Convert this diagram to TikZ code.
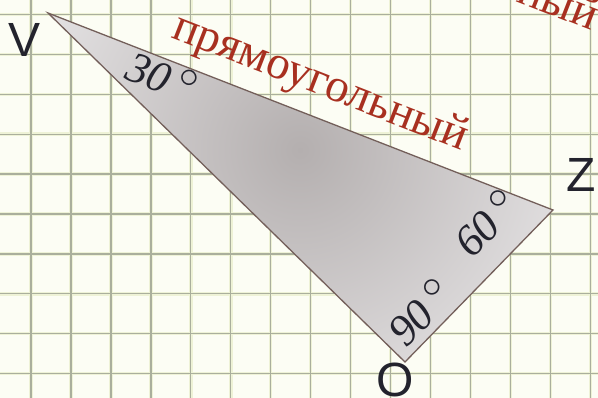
\documentclass[tikz,border=0pt]{standalone}
\usepackage{fontspec}
\setmainfont{Liberation Serif}
\newfontfamily\lblfont{Liberation Sans}
\definecolor{paper}{RGB}{252,253,244}
\definecolor{gridglow}{RGB}{238,242,214}
\definecolor{gridline}{RGB}{170,175,156}
\definecolor{trifill}{RGB}{180,175,175}
\definecolor{trifillout}{RGB}{228,226,227}
\definecolor{tristroke}{RGB}{115,95,90}
\definecolor{redtext}{RGB}{168,48,32}
\definecolor{darktext}{RGB}{35,35,45}
\tikzset{
  vlabel/.style={font=\lblfont\fontsize{48}{48}\selectfont, text=darktext, inner sep=0pt},
  anglelabel/.style={font=\itshape\fontsize{44}{44}\selectfont, text=darktext, inner sep=0pt, anchor=base west},
  wordlabel/.style={font=\fontsize{47}{47}\selectfont, text=redtext, inner sep=0pt, anchor=base west, rotate=-21.3},
}
\newcommand{\degmark}{\hspace{8pt}\raisebox{14pt}{\scalebox{1.6}{\fontsize{24.88}{25}\selectfont$\circ$}}}
\begin{document}
\begin{tikzpicture}[x=1pt,y=-1pt]
\useasboundingbox (0,0) rectangle (598,398);
\begin{scope}
\clip (0,0) rectangle (598,398);
\fill[paper] (0,0) rectangle (598,398);
% grid
\foreach \i in {0,...,14} {
  \draw[gridglow, line width=3.5pt] ({31+39.95*\i},0) -- ({31+39.95*\i},398);
}
\foreach \j in {0,...,9} {
  \draw[gridglow, line width=3.5pt] (0,{14.5+39.9*\j}) -- (598,{14.5+39.9*\j});
}
\foreach \i in {0,...,14} {
  \draw[gridline, line width=1.3pt] ({31+39.95*\i},0) -- ({31+39.95*\i},398);
}
\foreach \j in {0,...,9} {
  \draw[gridline, line width=1.3pt] (0,{14.5+39.9*\j}) -- (598,{14.5+39.9*\j});
}
% triangle
\coordinate (V) at (48,13);
\coordinate (Z) at (553,210);
\coordinate (O) at (405,362);
\begin{scope}
\clip (V) -- (Z) -- (O) -- cycle;
\shade[inner color=trifill, outer color=trifillout] (300,150) circle (290);
\end{scope}
\draw[tristroke, line width=1.3pt, line join=miter] (V) -- (Z) -- (O) -- cycle;
% red words
\node[wordlabel] (word1) at (170,37) {прямоугольный};
\node[wordlabel] (word2) at (300,-83) {прямоугольный};
% angle labels
\node[anglelabel, rotate=-21.3] (a30) at (123,78) {30\degmark};
\node[anglelabel, rotate=46] (a60) at (472.5,260) {60\degmark};
\node[anglelabel, rotate=46] (a90) at (406,349) {90\degmark};
% vertex labels
\node[vlabel] (lV) at (25,40) {V};
\node[vlabel] (lZ) at (581,175) {Z};
\node[vlabel] (lO) at (395,380) {O};
\end{scope}
\end{tikzpicture}
\end{document}
